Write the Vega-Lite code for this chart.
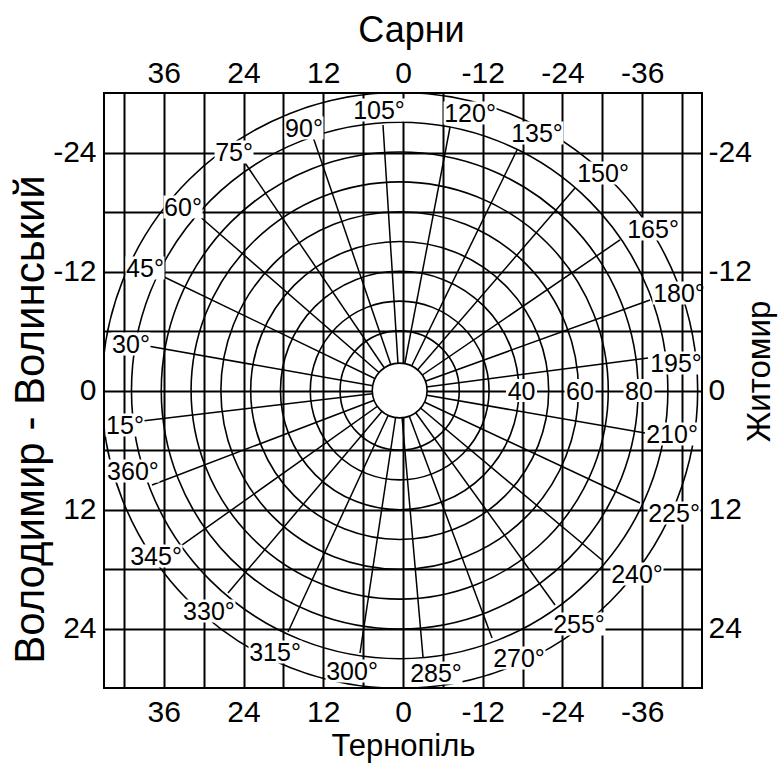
{
  "$schema": "https://vega.github.io/schema/vega-lite/v6.json",
  "width": 598,
  "height": 595,
  "autosize": {"type": "none"},
  "padding": {"left": 104, "top": 93, "right": 76, "bottom": 76},
  "background": "white",
  "config": {
    "view": {"stroke": null},
    "font": "Liberation Sans",
    "axis": {
      "labelFont": "Liberation Sans",
      "labelFontSize": 30,
      "labelColor": "black",
      "titleFont": "Liberation Sans",
      "titleFontSize": 32,
      "titleFontWeight": "normal",
      "titleColor": "black",
      "ticks": false,
      "tickSize": 0,
      "domain": false,
      "gridColor": "black",
      "gridWidth": 2,
      "gridOpacity": 1,
      "labelOverlap": false
    }
  },
  "datasets": {
    "rings": [
      {"r": 20},
      {"r": 30},
      {"r": 40, "lab": "40", "lx": -17.84, "ly": 0},
      {"r": 50},
      {"r": 60, "lab": "60", "lx": -26.64, "ly": 0},
      {"r": 70},
      {"r": 80, "lab": "80", "lx": -35.52, "ly": 0},
      {"r": 90},
      {"r": 100}
    ],
    "spokes": [
      {"deg": 15, "lab": "15°", "lx": 41.84, "ly": 3.48, "ex": 39.28, "ey": 3.08},
      {"deg": 30, "lab": "30°", "lx": 40.94, "ly": -4.69, "ex": 39.28, "ey": -4.59},
      {"deg": 45, "lab": "45°", "lx": 38.83, "ly": -12.35, "ex": 36.57, "ey": -11.65},
      {"deg": 60, "lab": "60°", "lx": 33.11, "ly": -18.5, "ex": 30.85, "ey": -17.7},
      {"deg": 75, "lab": "75°", "lx": 25.43, "ly": -24.05, "ex": 24.08, "ey": -23.24},
      {"deg": 90, "lab": "90°", "lx": 14.9, "ly": -26.47, "ex": 13.54, "ey": -25.56},
      {"deg": 105, "lab": "105°", "lx": 3.61, "ly": -28.29, "ex": 3.01, "ey": -26.77},
      {"deg": 120, "lab": "120°", "lx": -10.09, "ly": -27.98, "ex": -7.08, "ey": -26.57},
      {"deg": 135, "lab": "135°", "lx": -20.17, "ly": -25.97, "ex": -17.16, "ey": -24.25},
      {"deg": 150, "lab": "150°", "lx": -30.11, "ly": -21.93, "ex": -25.89, "ey": -20.42},
      {"deg": 165, "lab": "165°", "lx": -37.63, "ly": -16.29, "ex": -32.66, "ey": -15.18},
      {"deg": 180, "lab": "180°", "lx": -41.54, "ly": -9.83, "ex": -37.18, "ey": -9.13},
      {"deg": 195, "lab": "195°", "lx": -41.09, "ly": -2.77, "ex": -36.88, "ey": -3.28},
      {"deg": 210, "lab": "210°", "lx": -40.49, "ly": 4.39, "ex": -36.43, "ey": 4.29},
      {"deg": 225, "lab": "225°", "lx": -40.79, "ly": 12.35, "ex": -35.67, "ey": 11.34},
      {"deg": 240, "lab": "240°", "lx": -35.22, "ly": 18.5, "ex": -29.95, "ey": 17.09},
      {"deg": 255, "lab": "255°", "lx": -26.49, "ly": 23.55, "ex": -22.88, "ey": 21.63},
      {"deg": 270, "lab": "270°", "lx": -17.46, "ly": 26.97, "ex": -13.4, "ey": 24.96},
      {"deg": 285, "lab": "285°", "lx": -4.97, "ly": 28.49, "ex": -3.01, "ey": 26.87},
      {"deg": 300, "lab": "300°", "lx": 7.67, "ly": 28.29, "ex": 6.47, "ey": 26.47},
      {"deg": 315, "lab": "315°", "lx": 19.26, "ly": 26.37, "ex": 17.31, "ey": 24.35},
      {"deg": 330, "lab": "330°", "lx": 29.2, "ly": 22.24, "ex": 26.34, "ey": 20.42},
      {"deg": 345, "lab": "345°", "lx": 37.17, "ly": 16.69, "ex": 33.86, "ey": 15.88},
      {"deg": 360, "lab": "360°", "lx": 40.64, "ly": 8.12, "ex": 37.78, "ey": 9.53}
    ]
  },
  "layer": [
    {
      "data": {"name": "rings"},
      "mark": {"type": "point", "shape": "circle", "filled": false, "stroke": "black", "strokeWidth": 1.6, "opacity": 1, "clip": true},
      "encoding": {
        "x": {
          "datum": 0.5, "type": "quantitative",
          "scale": {"domain": [-45, 45], "reverse": true, "nice": false, "zero": false},
          "axis": {
            "orient": "bottom",
            "values": [-42, -36, -30, -24, -18, -12, -6, 0, 6, 12, 18, 24, 30, 36, 42],
            "grid": true,
            "labelExpr": "datum.value % 12 === 0 ? '' + datum.value : ''",
            "labelPadding": 9,
            "title": "Тернопіль",
            "titleFontSize": 31,
            "titleX": 299, "titleY": 58, "titleAngle": 0,
            "titleAlign": "center", "titleBaseline": "middle"
          }
        },
        "y": {
          "datum": 0, "type": "quantitative",
          "scale": {"domain": [-30, 30], "reverse": true, "nice": false, "zero": false},
          "axis": {
            "orient": "left",
            "values": [-24, -18, -12, -6, 0, 6, 12, 18, 24],
            "grid": true,
            "labelExpr": "datum.value % 12 === 0 ? '' + datum.value : ''",
            "labelPadding": 8,
            "title": "Володимир - Волинський",
            "titleFontSize": 42,
            "titleX": -74, "titleY": 326, "titleAngle": 270,
            "titleAlign": "center", "titleBaseline": "middle"
          }
        },
        "size": {"field": "r", "type": "quantitative", "scale": {"type": "pow", "exponent": 2, "domain": [0, 100], "range": [0, 355216]}, "legend": null}
      }
    },
    {
      "data": {"name": "spokes"},
      "mark": {"type": "rule", "stroke": "black", "strokeWidth": 1.5},
      "encoding": {
        "x": {
          "field": "ex", "type": "quantitative",
          "scale": {"domain": [-45, 45], "reverse": true, "nice": false, "zero": false},
          "axis": {
            "orient": "top",
            "values": [-36, -24, -12, 0, 12, 24, 36],
            "grid": false,
            "labelExpr": "'' + datum.value",
            "labelPadding": 5,
            "title": "Сарни",
            "titleFontSize": 36,
            "titleX": 307, "titleY": -63, "titleAngle": 0,
            "titleAlign": "center", "titleBaseline": "middle"
          }
        },
        "y": {
          "field": "ey", "type": "quantitative",
          "scale": {"domain": [-30, 30], "reverse": true, "nice": false, "zero": false},
          "axis": {
            "orient": "right",
            "values": [-24, -12, 0, 12, 24],
            "grid": false,
            "labelExpr": "'' + datum.value",
            "labelPadding": 6,
            "title": "Житомир",
            "titleFontSize": 33,
            "titleX": 57, "titleY": 278, "titleAngle": 270,
            "titleAlign": "center", "titleBaseline": "middle"
          }
        },
        "x2": {"datum": 0.5},
        "y2": {"datum": 0}
      }
    },
    {
      "data": {"values": [{"r": 9.2}]},
      "mark": {"type": "point", "shape": "circle", "filled": true, "fill": "white", "stroke": "black", "strokeWidth": 1.6, "opacity": 1},
      "encoding": {
        "x": {"datum": 0.5, "type": "quantitative", "axis": null},
        "y": {"datum": 0, "type": "quantitative", "axis": null},
        "size": {"field": "r", "type": "quantitative", "scale": {"type": "pow", "exponent": 2, "domain": [0, 100], "range": [0, 355216]}, "legend": null}
      }
    },
    {
      "data": {"name": "spokes"},
      "mark": {"type": "point", "filled": true, "fill": "white", "strokeWidth": 0, "opacity": 1, "size": 400},
      "encoding": {
        "x": {"field": "lx", "type": "quantitative", "axis": null},
        "y": {"field": "ly", "type": "quantitative", "axis": null},
        "shape": {
          "condition": {"test": "length(datum.lab) >= 4", "value": "M-2.65,-1.15H2.65V1.15H-2.65Z"},
          "value": "M-1.95,-1.15H1.95V1.15H-1.95Z"
        }
      }
    },
    {
      "data": {"name": "rings"},
      "transform": [{"filter": "isValid(datum.lab)"}],
      "mark": {"type": "point", "filled": true, "fill": "white", "strokeWidth": 0, "opacity": 1, "size": 400, "shape": "M-1.55,-1.15H1.55V1.15H-1.55Z"},
      "encoding": {
        "x": {"field": "lx", "type": "quantitative", "axis": null},
        "y": {"field": "ly", "type": "quantitative", "axis": null}
      }
    },
    {
      "data": {"name": "spokes"},
      "mark": {"type": "text", "font": "Liberation Sans", "fontSize": 25, "align": "center", "baseline": "middle", "dy": 1, "color": "black"},
      "encoding": {
        "x": {"field": "lx", "type": "quantitative", "axis": null},
        "y": {"field": "ly", "type": "quantitative", "axis": null},
        "text": {"field": "lab"}
      }
    },
    {
      "data": {"name": "rings"},
      "transform": [{"filter": "isValid(datum.lab)"}],
      "mark": {"type": "text", "font": "Liberation Sans", "fontSize": 25, "align": "center", "baseline": "middle", "dy": 1, "color": "black"},
      "encoding": {
        "x": {"field": "lx", "type": "quantitative", "axis": null},
        "y": {"field": "ly", "type": "quantitative", "axis": null},
        "text": {"field": "lab"}
      }
    },
    {
      "data": {"values": [{"edge": "frame"}]},
      "mark": {"type": "rect", "filled": false, "fill": null, "stroke": "black", "strokeWidth": 2},
      "encoding": {
        "x": {"datum": -45, "type": "quantitative", "axis": null},
        "x2": {"datum": 45},
        "y": {"datum": -30, "type": "quantitative", "axis": null},
        "y2": {"datum": 30}
      }
    }
  ],
  "resolve": {"axis": {"x": "independent", "y": "independent"}}
}
